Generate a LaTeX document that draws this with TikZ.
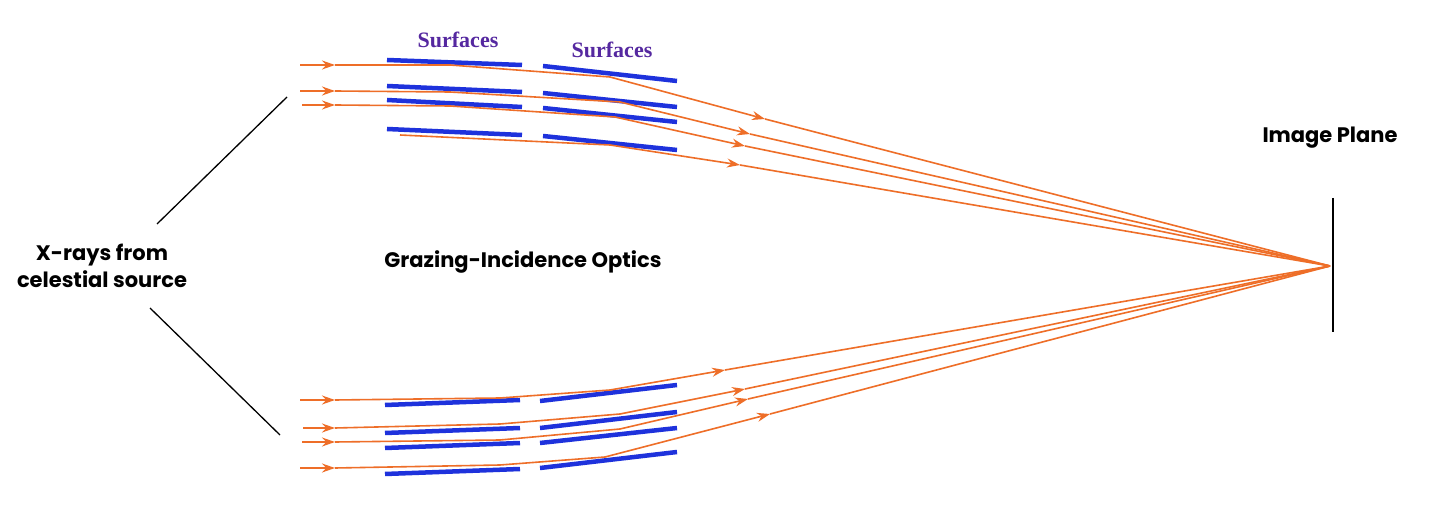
\documentclass[tikz,border=0pt]{standalone}
\usepackage{fontspec}
\setmainfont{Poppins}
\newfontfamily\surffont{Liberation Serif}
\usetikzlibrary{arrows.meta}
\definecolor{rayc}{RGB}{238,110,40}
\definecolor{mirc}{RGB}{30,50,220}
\definecolor{labc}{RGB}{85,40,160}
\tikzset{
  ray/.style={rayc, line width=1.6pt},
  rayarrow/.style={ray, -{Stealth[length=13pt,width=9pt]}},
  mirror/.style={mirc, line width=4.5pt},
  surflabel/.style={labc, font=\surffont\bfseries\fontsize{22}{26}\selectfont},
  caption/.style={font=\bfseries\fontsize{21}{27}\selectfont, align=center}
}
\begin{document}
\begin{tikzpicture}[x=1pt,y=-1pt]
  \useasboundingbox (0,0) rectangle (1440,526);
  \fill[white] (0,0) rectangle (1440,526);
  \coordinate (focus) at (1330,266);

  % Espejos superiores
  \draw[mirror] (387,60) -- (522,65);  \draw[mirror] (543,66) -- (677,81);
  \draw[mirror] (387,86) -- (522,92);  \draw[mirror] (543,93) -- (677,107);
  \draw[mirror] (387,100) -- (522,107); \draw[mirror] (543,108) -- (677,122);
  \draw[mirror] (387,129) -- (522,135); \draw[mirror] (543,136) -- (677,150);

  % Espejos inferiores
  \draw[mirror] (385,405) -- (520,400); \draw[mirror] (540,401) -- (677,385);
  \draw[mirror] (385,433) -- (520,428); \draw[mirror] (540,428) -- (677,412);
  \draw[mirror] (385,448) -- (520,443); \draw[mirror] (540,443) -- (677,428);
  \draw[mirror] (385,474) -- (520,469); \draw[mirror] (540,468) -- (677,452);

  % Rayos superiores
  \draw[rayarrow] (300,65) -- (335,65);
  \draw[ray] (335,65) -- (450,65) -- (610,77);
  \draw[rayarrow] (610,77) -- (765,119);
  \draw[ray] (765,119) -- (focus);
  \draw[rayarrow] (300,91) -- (335,91);
  \draw[ray] (335,91) -- (450,92) -- (620,102);
  \draw[rayarrow] (620,102) -- (750,134);
  \draw[ray] (750,134) -- (focus);
  \draw[rayarrow] (302,105) -- (335,105);
  \draw[ray] (335,105) -- (450,106) -- (615,117);
  \draw[rayarrow] (615,117) -- (745,146);
  \draw[ray] (745,146) -- (focus);
  \draw[ray] (400,135) -- (610,145);
  \draw[rayarrow] (610,145) -- (740,165);
  \draw[ray] (740,165) -- (focus);

  % Rayos inferiores
  \draw[rayarrow] (300,400) -- (335,400);
  \draw[ray] (335,400) -- (500,398) -- (610,390);
  \draw[rayarrow] (610,390) -- (725,370);
  \draw[ray] (725,370) -- (focus);
  \draw[rayarrow] (303,428) -- (335,428);
  \draw[ray] (335,428) -- (500,424) -- (620,414);
  \draw[rayarrow] (620,414) -- (745,389);
  \draw[ray] (745,389) -- (focus);
  \draw[rayarrow] (302,442) -- (335,442);
  \draw[ray] (335,442) -- (500,440) -- (620,429);
  \draw[rayarrow] (620,429) -- (748,399);
  \draw[ray] (748,399) -- (focus);
  \draw[rayarrow] (300,468) -- (335,468);
  \draw[ray] (335,468) -- (500,465) -- (605,457);
  \draw[rayarrow] (605,457) -- (770,414);
  \draw[ray] (770,414) -- (focus);

  % Plano imagen
  \draw[line width=2.5pt] (1333,198) -- (1333,332);
  \node[caption] (plane) at (1330,138) {Image Plane};

  % Etiquetas
  \node[caption] (src) at (102,266) {X-rays from\\celestial source};
  \node[caption] (optics) at (523,262) {Grazing-Incidence Optics};
  \node[surflabel] (surfA) at (458,40) {Surfaces};
  \node[surflabel] (surfB) at (612,50) {Surfaces};
  \draw[line width=1.3pt] (157,224) -- (287,97);
  \draw[line width=1.3pt] (150,308) -- (280,435);
\end{tikzpicture}
\end{document}
